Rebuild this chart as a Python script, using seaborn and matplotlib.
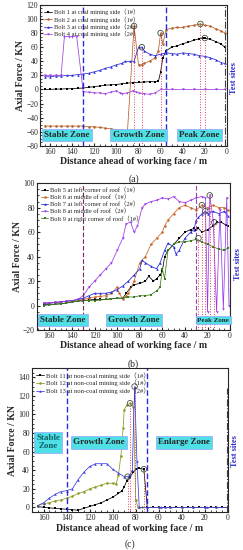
import matplotlib
matplotlib.use("Agg")
import matplotlib.pyplot as plt
import seaborn as sns
import pandas as pd

# ---- panel (a): coal mining side ----
a1_x = [165, 160, 155, 150, 145, 140, 135, 130, 125, 120, 115, 110, 105, 100, 95, 90, 85, 80, 75, 70, 65, 62, 60, 58, 55, 50, 45, 40, 35, 30, 25, 22, 20, 15, 10, 5, 2]
a1_y = [0, 0, 0.5, 0.5, 1, 1, 1.5, 2, 3, 4, 5, 6, 6.5, 7, 8, 9, 9.5, 10, 10.5, 11, 11, 11.5, 25, 45, 55, 60, 62, 65, 67, 70, 72, 73, 73, 71, 68, 64, 60]
a2_x = [165, 160, 155, 150, 145, 140, 135, 130, 125, 120, 115, 110, 105, 100, 95, 90, 84, 80, 77, 75, 70, 65, 62, 60, 58, 55, 50, 45, 40, 35, 30, 24, 20, 15, 10, 5, 2]
a2_y = [-52, -52, -52, -52, -52, -52, -52, -52, -53, -53, -54, -55, -56, -57, -58, -60, 90, 35, 35, 37, 40, 45, 55, 80, 65, 85, 87, 88, 88, 90, 91, 93, 91, 90, 86, 83, 80]
a3_x = [165, 160, 155, 150, 145, 140, 135, 130, 125, 120, 115, 110, 105, 100, 95, 92, 88, 84, 80, 77, 75, 70, 65, 60, 55, 50, 45, 40, 35, 30, 25, 20, 15, 10, 5, 2]
a3_y = [18, 18, 19, 19, 20, 20, 21, 22, 23, 25, 27, 30, 32, 35, 37, 40, 40, 40, 60, 60, 55, 50, 48, 50, 52, 51, 50, 52, 51, 50, 48, 47, 45, 42, 38, 37]
a4_x = [165, 160, 155, 150, 147, 143, 140, 136, 130, 125, 120, 115, 110, 105, 100, 97, 95, 90, 85, 82, 80, 75, 70, 65, 60, 55, 50, 40, 30, 20, 10, 2]
a4_y = [20, 20, 20, 20, 75, 75, 75, 76, -3, -4, -5, -5, -6, -4, -2, -5, -6, -5, -2, -4, -5, -6, -7, -5, 0, 0, 0, 0, 0, 0, 0, 0]
a_labels = ["Bolt 1 at coal mining side\uff081#\uff09", "Bolt 2 at coal mining side\uff081#\uff09",
            "Bolt 3 at coal mining side\uff082#\uff09", "Bolt 4 at coal mining side\uff082#\uff09"]
a_peaks_x = [84, 77, 60, 24, 20]
a_peaks_y = [90, 60, 80, 93, 73]

# ---- panel (b): roof ----
b5_x = [165, 160, 155, 150, 145, 140, 135, 130, 125, 120, 115, 110, 105, 100, 95, 92, 88, 85, 80, 75, 72, 68, 65, 62, 60, 58, 55, 50, 45, 40, 35, 32, 30, 28, 25, 20, 15, 12, 8, 4, 2]
b5_y = [1, 1, 1, 1.5, 2, 3, 3.5, 4, 4.5, 5, 5, 5, 5.5, 6, 6, 10, 15, 17, 18, 20, 24, 20, 22, 25, 28, 40, 45, 50, 55, 60, 62, 63, 62, 63, 60, 62, 65, 68, 68, 66, 65]
b6_x = [165, 160, 155, 150, 145, 140, 135, 130, 125, 120, 115, 110, 105, 100, 98, 95, 92, 90, 85, 80, 75, 70, 65, 60, 58, 55, 50, 45, 40, 35, 30, 25, 20, 15, 10, 5, 2]
b6_y = [2, 2, 2.5, 3, 3.5, 4, 4.5, 5, 6, 7, 7.5, 8, 10, 15, 10, 5, 8, 10, 20, 35, 40, 50, 55, 60, 65, 70, 75, 80, 82, 80, 78, 82, 80, 82, 80, 80, 78]
b7_x = [165, 160, 155, 150, 145, 140, 135, 130, 125, 120, 115, 110, 105, 100, 95, 90, 85, 80, 78, 75, 70, 65, 62, 58, 55, 50, 48, 45, 40, 35, 32, 30, 28, 25, 22, 20, 15, 10, 5, 2]
b7_y = [2, 2, 2.5, 3, 3.5, 4, 5, 6, 8, 10, 10, 10, 11, 13, 16, 20, 25, 30, 37, 35, 32, 30, 35, 45, 51, 48, 42, 45, 55, 60, 62, 70, 72, 75, 77, 75, 77, 75, 77, 73]
b8_x = [165, 160, 155, 150, 145, 140, 135, 130, 125, 120, 115, 110, 105, 100, 95, 92, 88, 85, 82, 78, 75, 70, 65, 60, 55, 50, 45, 40, 35, 30, 25, 22, 20, 18, 15, 12, 9, 6, 3, 1]
b8_y = [2, 2, 2.5, 3, 3.5, 4, 5, 8, 15, 20, 25, 30, 35, 45, 55, 67, 68, 60, 65, 80, 83, 85, 86, 88, 87, 89, 85, 84, 86, 88, 89, 88, -5, 90, 70, -5, 78, -3, 88, 0]
b9_x = [165, 160, 155, 150, 145, 140, 135, 130, 125, 120, 115, 110, 105, 100, 95, 90, 85, 80, 75, 70, 65, 62, 60, 58, 55, 50, 45, 40, 35, 30, 25, 20, 15, 10, 5, 2]
b9_y = [0, 0.5, 1, 1.5, 2, 3, 3.5, 4, 4, 4, 4.5, 5, 5.5, 6, 6, 7, 7, 8, 8, 9, 12, 15, 30, 22, 45, 50, 52, 52, 53, 54, 52, 50, 48, 46, 45, 47]
b_labels = ["Bolt 5 at left corner of roof\uff081#\uff09", "Bolt 6 at middle of roof\uff081#\uff09",
            "Bolt 7 at left corner of roof\uff082#\uff09", "Bolt 8 at middle of roof\uff082#\uff09",
            "Bolt 9 at right corner of roof\uff081#\uff09"]
b_peaks_x = [28, 25, 22, 18, 14]
b_peaks_y = [55, 82, 77, 90, 68]

# ---- panel (c): non-coal mining side ----
c11_x = [165, 160, 155, 150, 145, 140, 135, 130, 125, 120, 115, 110, 105, 100, 95, 92, 90, 88, 85, 82, 80, 77, 73, 70, 65, 60, 55, 50, 45, 40, 35, 30, 25, 20, 15, 10, 5, 0]
c11_y = [1, 0, -0.5, -1, -1.5, -2, -2.5, -3, -1, 1, 3, 5, 8, 11, 15, 18, 22, 28, 33, 38, 41, 42, 41, 0, 0, 0, 0, 0, 0, 0, 0, 0, 0, 0, 0, 0, 0, 0]
c12_x = [165, 160, 155, 150, 145, 140, 135, 130, 125, 120, 115, 110, 105, 100, 97, 95, 93, 92, 91, 90, 88, 85, 82, 80, 78, 75, 70, 60, 50, 40, 30, 20, 10, 0]
c12_y = [2, 4, 5, 7, 8, 10, 12, 15, 17, 20, 22, 24, 26, 26, 25, 35, 55, 68, 85, 105, 110, 112, 108, 8, 0, 0, 0, 0, 0, 0, 0, 0, 0, 0]
c13_x = [165, 160, 155, 150, 145, 140, 135, 130, 125, 120, 115, 110, 105, 100, 95, 90, 87, 85, 83, 81, 79, 77, 70, 60, 58, 55, 50, 40, 30, 20, 18, 10, 0]
c13_y = [2, 5, 10, 14, 17, 18, 20, 30, 38, 44, 47, 47, 47, 41, 37, 33, 33, 35, 40, 130, 50, 0, 0, 0, 0, 0, 0, 0, 0, 0, 0, 0, 0]
c_labels = ["Bolt 11 at non-coal mining side\uff081#\uff09", "Bolt 12 at non-coal mining side\uff081#\uff09",
            "Bolt 13 at non-coal mining side\uff082#\uff09"]
c_peaks_x = [87, 85, 81, 73]
c_peaks_y = [33, 112, 130, 41]

sns.set_style("ticks")
plt.rcParams["font.family"] = ["Liberation Serif", "Noto Sans CJK SC", "DejaVu Sans"]
plt.rcParams["xtick.direction"] = "in"
plt.rcParams["ytick.direction"] = "in"
plt.rcParams["xtick.labelsize"] = 5.5
plt.rcParams["ytick.labelsize"] = 5.5

fig = plt.figure(figsize=(2.43, 5.5), dpi=100)
ax_a = fig.add_axes([0.165, 0.735, 0.769, 0.256])
ax_b = fig.add_axes([0.152, 0.400, 0.795, 0.267])
ax_c = fig.add_axes([0.132, 0.069, 0.806, 0.262])

zone_box = dict(boxstyle="square,pad=0.25", fc="#4fe0e6", ec="#9aa0ff", lw=0.5)


def draw_series(ax, xs, ys, labels, colors, markers):
    for x, y, lab, c, m in zip(xs, ys, labels, colors, markers):
        df = pd.DataFrame({"x": x, "y": y})
        sns.lineplot(data=df, x="x", y="y", ax=ax, sort=False, estimator=None,
                     color=c, marker=m, markersize=1.8, markeredgewidth=0,
                     linewidth=0.55, label=lab)


def peaks(ax, px, py, ybot):
    for x, y in zip(px, py):
        ax.plot([x, x], [ybot, y], ls=":", color="#e04060", lw=0.7)
        ax.scatter([x], [y], s=16, facecolors="none", edgecolors="#405040", linewidths=0.6, zorder=5)


def finish(ax, xlim, ylim, yticks, tag, legend_fs):
    ax.set_xlim(*xlim)
    ax.set_ylim(*ylim)
    ax.set_xticks(range(0, 161, 20))
    ax.set_yticks(yticks)
    ax.minorticks_on()
    ax.tick_params(which="minor", length=1.2)
    ax.tick_params(which="major", length=2.2, pad=1.5)
    ax.set_xlabel("Distance ahead of working face / m", fontsize=7, fontweight="bold", labelpad=1)
    ax.set_ylabel("Axial Force / KN", fontsize=7, fontweight="bold", labelpad=1)
    ax.text(0.5, -0.2 if tag != "(c)" else -0.19, tag, transform=ax.transAxes, ha="center", va="top", fontsize=7)
    ax.legend(loc="upper left", frameon=False, fontsize=legend_fs, handlelength=1.2,
              handletextpad=0.3, labelspacing=0.15, borderaxespad=0.2)
    ax.text(-3, (ylim[0] + ylim[1]) * 0.42, "Test sites", rotation=90, color="#2a2ac8",
            fontsize=6, fontweight="bold", ha="left", va="center", clip_on=False)


# (a)
draw_series(ax_a, [a1_x, a2_x, a3_x, a4_x], [a1_y, a2_y, a3_y, a4_y], a_labels,
            ["black", "#b5602a", "#2424d8", "#a040e0"], ["s", "o", "^", "v"])
peaks(ax_a, a_peaks_x, a_peaks_y, -80)
for xv in [130, 55]:
    ax_a.axvline(xv, color="#2a2ad8", ls=(0, (4, 2)), lw=1)
ax_a.axvline(2, color="#404040", ls="-.", lw=0.8)
ax_a.text(145, -65, "Stable Zone", fontsize=6.5, fontweight="bold", ha="center", va="center", bbox=zone_box)
ax_a.text(80, -65, "Growth Zone", fontsize=6.5, fontweight="bold", ha="center", va="center", bbox=zone_box)
ax_a.text(25, -65, "Peak Zone", fontsize=6.5, fontweight="bold", ha="center", va="center", bbox=zone_box)
finish(ax_a, (169, 0), (-80, 120), range(-80, 121, 20), "(a)", 4.6)

# (b)
draw_series(ax_b, [b5_x, b6_x, b7_x, b8_x, b9_x], [b5_y, b6_y, b7_y, b8_y, b9_y], b_labels,
            ["black", "#c8682a", "#2424d8", "#9a3ae8", "#3c7a1c"], ["s", "o", "^", "v", "s"])
peaks(ax_b, b_peaks_x, b_peaks_y, -20)
ax_b.axvline(130, color="#802060", ls=(0, (4, 2)), lw=0.8)
ax_b.axvline(30, color="#a040a0", ls=(0, (4, 2)), lw=0.8)
ax_b.axvline(0.5, color="#404040", ls="-.", lw=0.8)
ax_b.text(148, -12, "Stable Zone", fontsize=6.5, fontweight="bold", ha="center", va="center", bbox=zone_box)
ax_b.text(85, -12, "Growth Zone", fontsize=6.5, fontweight="bold", ha="center", va="center", bbox=zone_box)
ax_b.text(15, -12, "Peak Zone", fontsize=5, fontweight="bold", ha="center", va="center", bbox=zone_box)
finish(ax_b, (171, 0), (-20, 100), range(-20, 101, 20), "(b)", 4.6)

# (c)
draw_series(ax_c, [c11_x, c12_x, c13_x], [c11_y, c12_y, c13_y], c_labels,
            ["black", "#8a9a20", "#3a3ae0"], ["s", "o", "^"])
peaks(ax_c, c_peaks_x, c_peaks_y, -5)
for xv in [140, 70]:
    ax_c.axvline(xv, color="#2a2ad8", ls=(0, (4, 2)), lw=1)
ax_c.axvline(1, color="#404040", ls="-.", lw=0.8, ymax=0.86)
ax_c.text(156, 70, "Stable\nZone", fontsize=6.5, fontweight="bold", color="#10606a", ha="center", va="center",
          linespacing=1.0, bbox=zone_box)
ax_c.text(112, 70, "Growth Zone", fontsize=6.5, fontweight="bold", ha="center", va="center", bbox=zone_box)
ax_c.text(38, 70, "Enlarge Zone", fontsize=6.5, fontweight="bold", ha="center", va="center", bbox=zone_box)
finish(ax_c, (170, 0), (-5, 150), range(0, 141, 20), "(c)", 4.8)

fig.savefig("out.png", dpi=100)
